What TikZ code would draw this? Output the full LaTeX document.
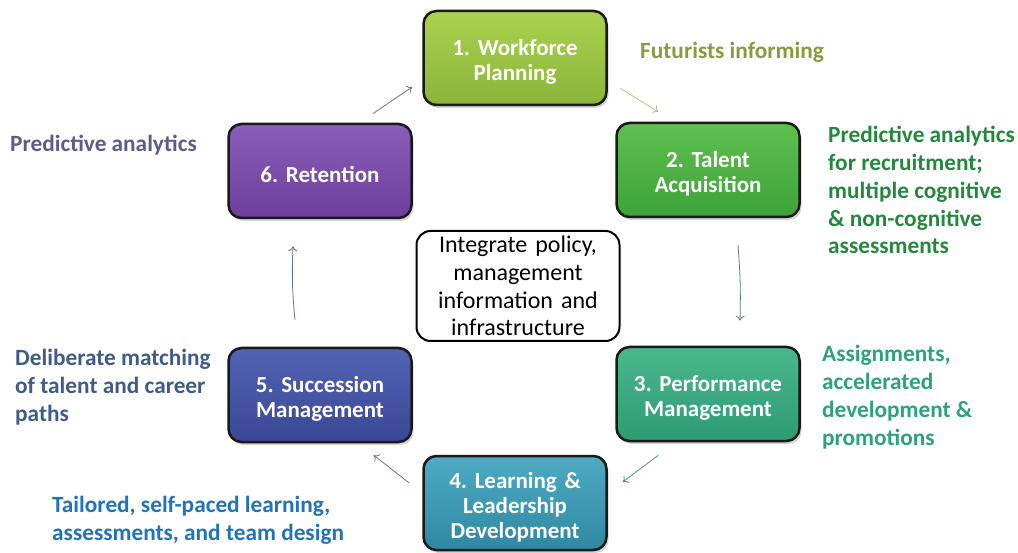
\documentclass[tikz,border=0pt]{standalone}
\usepackage{fontspec}
\setmainfont{Carlito}
\usetikzlibrary{calc,shadows,arrows.meta}

\definecolor{planTop}{HTML}{AAD24F}
\definecolor{planBot}{HTML}{8AB53A}
\definecolor{acqTop}{HTML}{5EC04E}
\definecolor{acqBot}{HTML}{3DA23B}
\definecolor{perfTop}{HTML}{4AB88D}
\definecolor{perfBot}{HTML}{2E9A72}
\definecolor{learnTop}{HTML}{4EABC2}
\definecolor{learnBot}{HTML}{2F88A2}
\definecolor{succTop}{HTML}{5263B3}
\definecolor{succBot}{HTML}{394795}
\definecolor{retTop}{HTML}{8B5DBA}
\definecolor{retBot}{HTML}{6B3F9B}
\definecolor{futureTxt}{HTML}{8A9A40}
\definecolor{acqTxt}{HTML}{23883A}
\definecolor{perfTxt}{HTML}{2AA378}
\definecolor{learnTxt}{HTML}{1E73BE}
\definecolor{succTxt}{HTML}{3E5B8A}
\definecolor{retTxt}{HTML}{5B5B8F}

\tikzset{
  stage/.style 2 args={draw=black!90, line width=2.5pt, rounded corners=13pt,
    top color=#1, bottom color=#2, minimum width=183pt, minimum height=94pt,
    text width=178pt, align=center, text=white, inner sep=0pt,
    font=\bfseries\fontsize{23}{25}\selectfont,
    execute at begin node={\rule{0pt}{24pt}},
    drop shadow={shadow xshift=2pt, shadow yshift=-3pt, opacity=0.35}},
  hub/.style={draw=black, line width=2pt, rounded corners=14pt, fill=white,
    minimum width=203pt, minimum height=110pt, text width=198pt,
    align=center, inner sep=0pt, font=\fontsize{24}{27.7}\selectfont},
  note/.style={anchor=base west, align=left, inner sep=0pt,
    font=\bfseries\fontsize{23.3}{27.8}\selectfont},
  flow/.style={-{To[length=5pt,width=9pt]}, line width=0.8pt},
}

\begin{document}
\frenchspacing
\begin{tikzpicture}[x=1pt,y=-1pt]
\useasboundingbox (0,0) rectangle (1018,553);

% the six stages
\node[stage={planTop}{planBot}]   (plan) at (515,58)  {1. Workforce\\Planning};
\node[stage={acqTop}{acqBot}]     (acq)  at (708,170) {2. Talent\\Acquisition};
\node[stage={perfTop}{perfBot}]   (perf) at (708,394) {3. Performance\\Management};
\node[stage={learnTop}{learnBot}] (learn) at (515,503) {4. Learning \&\\Leadership\\Development};
\node[stage={succTop}{succBot}]   (succ) at (320,395) {5. Succession\\Management};
\node[stage={retTop}{retBot}]     (ret)  at (320,171) {6. Retention};

% hub
\node[hub] (hub) at (518,286) {Integrate policy,\\management\\information and\\infrastructure};

% notes (anchored on the baseline of their last line)
\node[note, text=futureTxt] (nplan) at (640,59)  {Futurists informing};
\node[note, text=acqTxt]    (nacq)  at (828,254) {Predictive analytics\\for recruitment;\\multiple cognitive\\\& non-cognitive\\assessments};
\node[note, text=perfTxt]   (nperf) at (822,445) {Assignments,\\accelerated\\development \&\\promotions};
\node[note, text=learnTxt]  (nlearn) at (52,540) {Tailored, self-paced learning,\\assessments, and team design};
\node[note, text=succTxt]   (nsucc) at (15,421) {Deliberate matching\\of talent and career\\paths};
\node[note, text=retTxt]    (nret)  at (10,152) {Predictive analytics};

% cycle
\draw[flow, draw=futureTxt!60] ($(plan.east)+(12,30)$) -- ($(acq.north west)+(43,-10)$);
\draw[flow, draw=acqTxt!45!gray] ($(acq.south)+(30,27)$) to[bend left=3] ($(perf.north)+(32,-25)$);
\draw[flow, draw=perfTxt!70!gray] ($(perf.south west)+(43,13)$) -- ($(learn.east)+(15,-21)$);
\draw[flow, draw=learnTxt!40!gray] ($(learn.west)+(-13,-20)$) -- ($(succ.south east)+(-39,12)$);
\draw[flow, draw=succTxt!40!gray] ($(succ.north)+(-25,-27)$) to[bend left=4] ($(ret.south)+(-27,27)$);
\draw[flow, draw=retTxt!40!gray] ($(ret.north east)+(-40,-9)$) -- ($(plan.west)+(-10,29)$);
\end{tikzpicture}
\end{document}
